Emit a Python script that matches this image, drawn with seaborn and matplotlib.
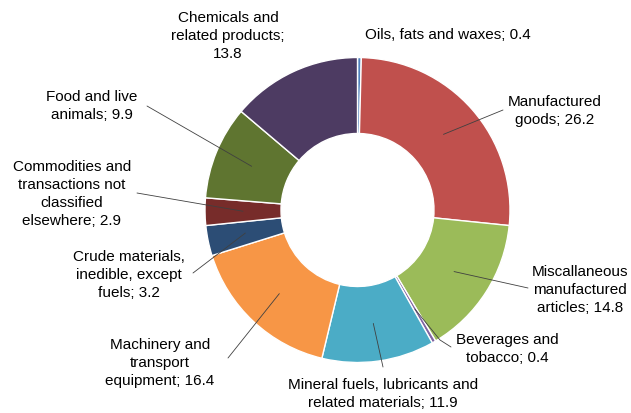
import numpy as np
import seaborn as sns
import matplotlib.pyplot as plt

# data, clockwise from 12 o'clock
categories = ['Oils, fats and waxes', 'Manufactured\ngoods', 'Miscallaneous\nmanufactured\narticles',
              'Beverages and\ntobacco', 'Mineral fuels, lubricants and\nrelated materials',
              'Machinery and\ntransport\nequipment', 'Crude materials,\ninedible, except\nfuels',
              'Commodities and\ntransactions not\nclassified\nelsewhere', 'Food and live\nanimals',
              'Chemicals and\nrelated products;\n']
values = [0.4, 26.2, 14.8, 0.4, 11.9, 16.4, 3.2, 2.9, 9.9, 13.8]

colors = ['#4F81BD', '#C0504D', '#9BBB59', '#8064A2', '#4BACC6',
          '#F79646', '#2C4D75', '#772C2A', '#5F7530', '#4D3B62']

sns.set_theme(style='white')
plt.rcParams['font.family'] = ['Liberation Sans', 'DejaVu Sans']

W, H = 631, 413
fig = plt.figure(figsize=(W / 100, H / 100), dpi=100)
ax = fig.add_axes([0, 0, 1, 1])

cx, cy = 357.5, H - 210
R = 152.5
wedges, _ = ax.pie(values, colors=colors, startangle=90, counterclock=False,
                   radius=R, center=(cx, cy),
                   wedgeprops=dict(width=76, edgecolor='white', linewidth=1.0))

ax.set_xlim(0, W)
ax.set_ylim(0, H)
ax.set_aspect('equal')
ax.axis('off')

# label centres (pixel coords, y down) and leader line start points
label_pos = [(448, 35), (555, 111), (580, 290), (507, 349), (383, 394),
             (160, 363), (129, 275), (72, 194), (92, 106), (228, 36)]
leader = [None, [(503, 110)], [(528, 288)], [(451, 347), (440, 340)], [(383, 367)],
          [(228, 358)], [(193, 273)], [(137, 193)], [(147, 106)], None]

for w, cat, v, (lx, ly), ld in zip(wedges, categories, values, label_pos, leader):
    if cat.endswith('\n'):
        txt = cat + f'{v}'
    else:
        txt = f'{cat}; {v}'
    ax.text(lx, H - ly, txt, ha='center', va='center', fontsize=11,
            color='#000000', linespacing=1.38, multialignment='center')
    if ld is not None:
        th = np.deg2rad((w.theta1 + w.theta2) / 2)
        r = w.r - w.width / 2
        ex, ey = cx + r * np.cos(th), cy + r * np.sin(th)
        xs = [p[0] for p in ld] + [ex]
        ys = [H - p[1] for p in ld] + [ey]
        ax.plot(xs, ys, color='#404040', lw=0.6)

plt.savefig('out.png', dpi=100)
